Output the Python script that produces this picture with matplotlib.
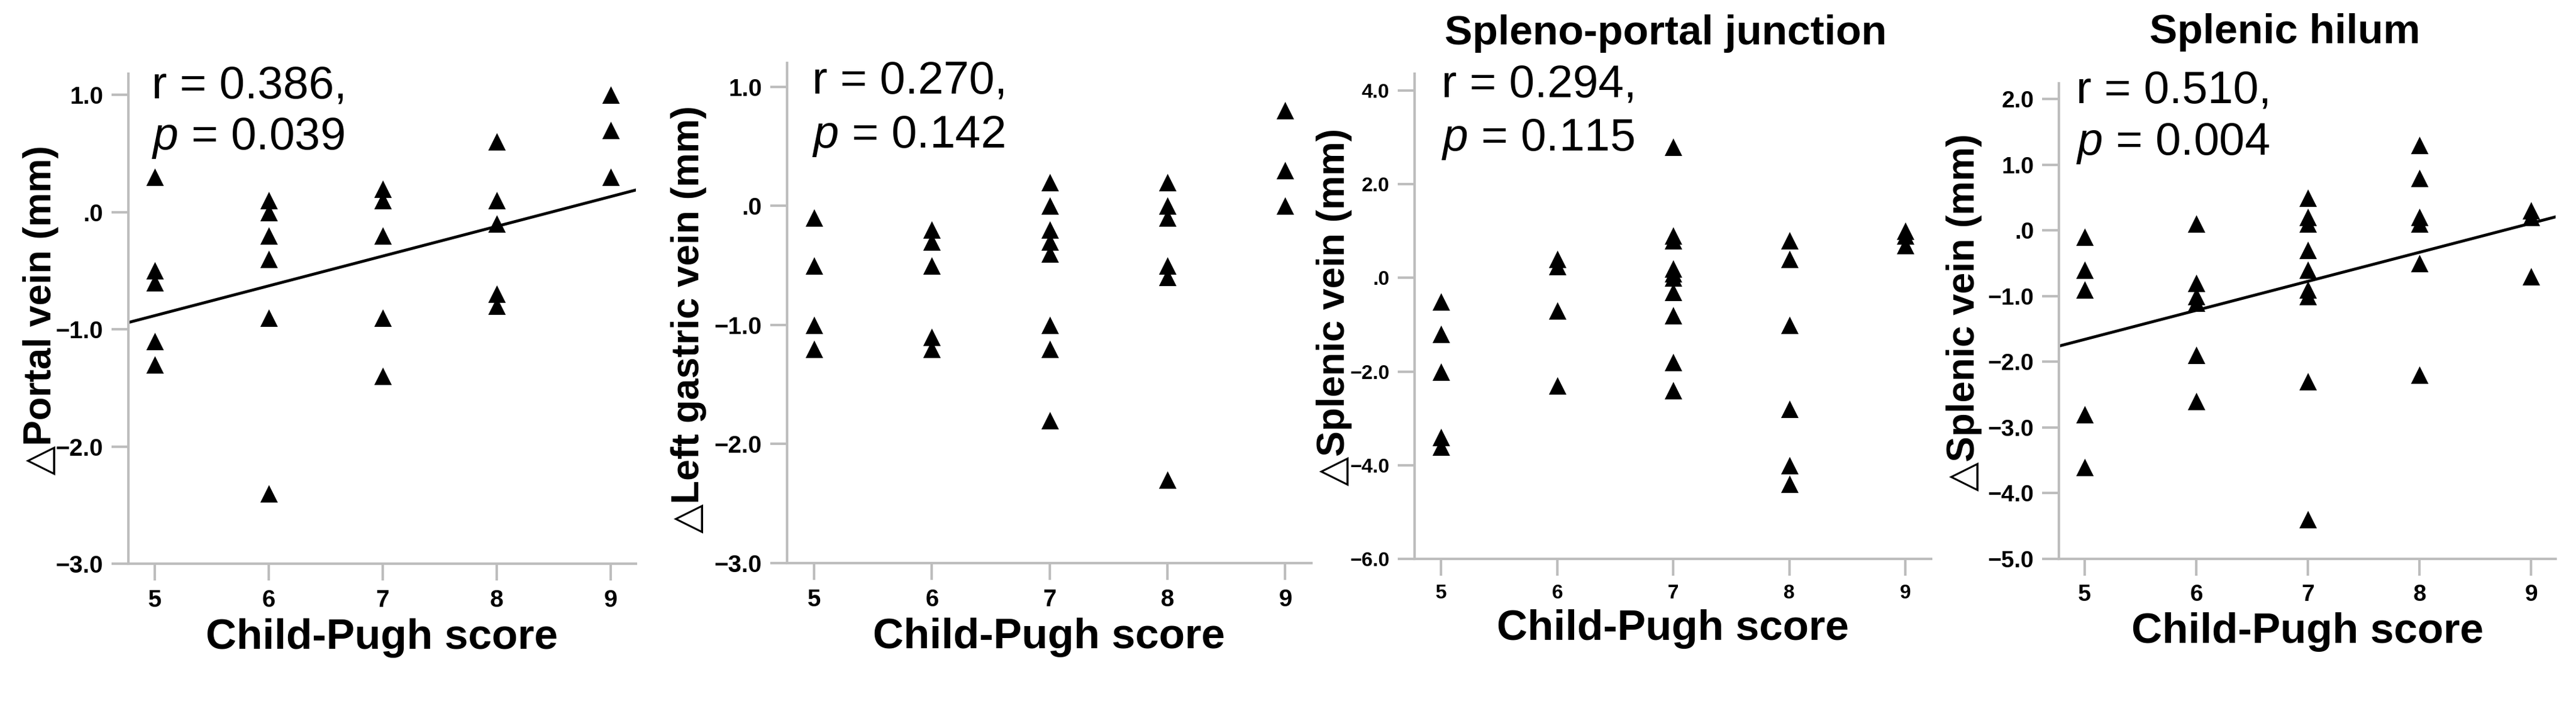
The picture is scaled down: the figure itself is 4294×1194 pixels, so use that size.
import numpy as np
import matplotlib.pyplot as plt
from matplotlib.ticker import FuncFormatter

plt.rcParams['font.family'] = ['Liberation Sans', 'DejaVu Sans']
plt.rcParams['mathtext.fontset'] = 'custom'
plt.rcParams['mathtext.rm'] = 'Liberation Sans'
plt.rcParams['mathtext.it'] = 'Liberation Sans:italic'

# Child-Pugh score (x) and change in vein diameter (y)
portal_x = [5, 5, 5, 5, 5, 6, 6, 6, 6, 6, 6, 7, 7, 7, 7, 7, 8, 8, 8, 8, 8, 9, 9, 9]
portal_y = [0.3, -0.5, -0.6, -1.1, -1.3,
            0.1, 0.0, -0.2, -0.4, -0.9, -2.4,
            0.2, 0.1, -0.2, -0.9, -1.4,
            0.6, 0.1, -0.1, -0.7, -0.8,
            1.0, 0.7, 0.3]

lgv_x = [5, 5, 5, 5, 6, 6, 6, 6, 6, 7, 7, 7, 7, 7, 7, 7, 7, 8, 8, 8, 8, 8, 8, 9, 9, 9]
lgv_y = [-0.1, -0.5, -1.0, -1.2,
         -0.2, -0.3, -0.5, -1.1, -1.2,
         0.2, 0.0, -0.2, -0.3, -0.4, -1.0, -1.2, -1.8,
         0.2, 0.0, -0.1, -0.5, -0.6, -2.3,
         0.8, 0.3, 0.0]

spj_x = [5, 5, 5, 5, 5, 6, 6, 6, 6, 7, 7, 7, 7, 7, 7, 7, 7, 7, 7,
         8, 8, 8, 8, 8, 8, 9, 9, 9]
spj_y = [-0.5, -1.2, -2.0, -3.4, -3.6,
         0.4, 0.25, -0.7, -2.3,
         2.8, 0.9, 0.8, 0.2, 0.1, 0.0, -0.3, -0.8, -1.8, -2.4,
         0.8, 0.4, -1.0, -2.8, -4.0, -4.4,
         1.0, 0.9, 0.7]

hil_x = [5, 5, 5, 5, 5, 6, 6, 6, 6, 6, 6, 7, 7, 7, 7, 7, 7, 7, 7, 7,
         8, 8, 8, 8, 8, 8, 9, 9, 9]
hil_y = [-0.1, -0.6, -0.9, -2.8, -3.6,
         0.1, -0.8, -1.0, -1.1, -1.9, -2.6,
         0.5, 0.2, 0.1, -0.3, -0.6, -0.9, -1.0, -2.3, -4.4,
         1.3, 0.8, 0.2, 0.1, -0.5, -2.2,
         0.3, 0.2, -0.7]

ylabels = ['\u25b3Portal vein (mm)', '\u25b3Left gastric vein (mm)',
           '\u25b3Splenic vein (mm)', '\u25b3Splenic vein (mm)']
titles = ['', '', 'Spleno-portal junction', 'Splenic hilum']
r_text = ['r = 0.386,', 'r = 0.270,', 'r = 0.294,', 'r = 0.510,']
p_text = ['0.039', '0.142', '0.115', '0.004']
ylims = [(-3.0, 1.18), (-3.0, 1.2), (-6.0, 4.36), (-5.0, 2.24)]
yticks = [np.arange(-3, 1.1, 1), np.arange(-3, 1.1, 1),
          np.arange(-6, 4.1, 2), np.arange(-5, 2.1, 1)]
# fitted lines (slope, intercept); None = no line
fits = [(0.254, -2.154), None, None, (0.442, -3.868)]

xs = [portal_x, lgv_x, spj_x, hil_x]
ys = [portal_y, lgv_y, spj_y, hil_y]

# layout (figure fractions)
boxes = [(0.0498, 0.2127, 0.1970, 0.6843),
         (0.3055, 0.2136, 0.2035, 0.6985),
         (0.5491, 0.2194, 0.2005, 0.6776),
         (0.7993, 0.2194, 0.1928, 0.6642)]
txt_pos = [(0.046, 0.951, 0.846), (0.048, 0.939, 0.831),
           (0.053, 0.951, 0.842), (0.035, 0.958, 0.850)]
ylab_pos = [(-0.208, 0.517), (-0.222, 0.487), (-0.19, 0.519), (-0.227, 0.518)]
title_pos = [None, None, (0.486, 1.06), (0.455, 1.085)]
tick_sizes = [29, 29, 24, 28]

gray = '#bdbdbd'


def fmt(v, pos):
    s = f'{abs(v):.1f}'
    if s == '0.0':
        return '.0'
    return ('\u2212' if v < 0 else '') + s


fig = plt.figure(figsize=(42.94, 11.94), dpi=100)

for i in range(4):
    ax = fig.add_axes(boxes[i])
    ax.scatter(xs[i], ys[i], marker='^', s=21**2, color='black', linewidths=0, zorder=3)
    if fits[i] is not None:
        m, b = fits[i]
        xx = np.array([4.77, 9.22])
        ax.plot(xx, m * xx + b, color='black', lw=3.5, zorder=2)
    ax.set_xlim(4.77, 9.22)
    ax.set_ylim(*ylims[i])
    ax.set_xticks([5, 6, 7, 8, 9])
    ax.set_yticks(yticks[i])
    ax.yaxis.set_major_formatter(FuncFormatter(fmt))
    for s in ['top', 'right']:
        ax.spines[s].set_visible(False)
    for s in ['left', 'bottom']:
        ax.spines[s].set_color(gray)
        ax.spines[s].set_linewidth(3)
    ax.tick_params(length=20, width=3, color=gray, labelsize=tick_sizes[i], pad=10)
    for lab in ax.get_xticklabels() + ax.get_yticklabels():
        lab.set_fontweight('bold')
    ax.set_xlabel('Child-Pugh score', fontsize=51, fontweight='bold', labelpad=8)
    ax.set_ylabel(ylabels[i], fontsize=46, fontweight='bold')
    ax.yaxis.set_label_coords(*ylab_pos[i])
    ax.yaxis.label.set_va('top')
    tx, ty1, ty2 = txt_pos[i]
    ax.text(tx, ty1, r_text[i], transform=ax.transAxes, fontsize=55, va='baseline')
    ax.text(tx, ty2, r'$\it{p}$ = ' + p_text[i], transform=ax.transAxes, fontsize=55, va='baseline')
    if title_pos[i] is not None:
        ax.text(title_pos[i][0], title_pos[i][1], titles[i], transform=ax.transAxes,
                fontsize=50, fontweight='bold', ha='center', va='baseline')

fig.savefig('out.png', dpi=100)
